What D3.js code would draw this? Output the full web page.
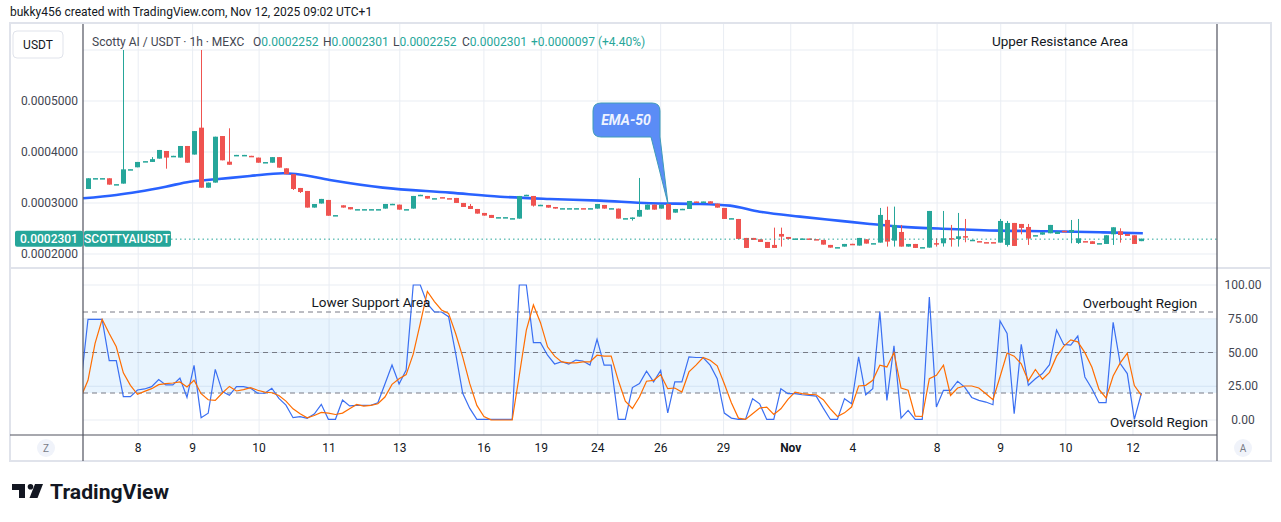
<!DOCTYPE html>
<html>
<head>
<meta charset="utf-8">
<script src="https://cdn.jsdelivr.net/npm/d3@7"></script>
<style>
  html, body { margin: 0; padding: 0; background: #fff; }
  svg { display: block; font-family: Roboto, "Noto Sans", sans-serif; }
</style>
</head>
<body>
<script>
(function() {

//------------------------------------------------------------------------------
//
// Data (prices in 1e-7 USDT, one entry per candle)
//
//------------------------------------------------------------------------------

var opens = [
  3275,3482,3482,3485,3364,3380,3657,3700,3815,3805, 3870,4020,3919,3890,4118,3950,4477,3300,3400,4313,
  3810,3937,3937,3925,3890,3797,3790,3900,3680,3565, 3295,3236,2910,2990,3060,2757,2955,2920,2874,2874,
  2874,2874,2890,2978,2968,2874,2890,3155,3138,3089, 3115,3095,3099,3001,2942,2883,2805,2766,2717,2717,
  2697,2694,3155,3138,2959,2962,2922,2893,2893,2893, 2899,2893,2890,2962,2893,2890,2697,2710,2733,2870,
  2968,2890,2981,2811,2880,2883,3030,3024,3033,2988, 2903,2697,2687,2315,2315,2289,2236,2178,2393,2334,
  2299,2299,2305,2292,2276,2178,2129,2145,2200,2165, 2289,2207,2223,2668,2262,2432,2145,2197,2129,2125,
  2213,2210,2311,2295,2350,2273,2253,2233,2233,2223, 2178,2609,2589,2530,2364,2380,2406,2393,2455,2426,
  2217,2253,2250,2207,2197,2386,2445,2393,2367,2252
];
var highs = [
  3485,3488,3488,3485,3370,6000,3663,3805,3821,3900, 4040,4020,3925,4118,4118,4410,6000,3400,4300,4313,
  4465,3943,3943,3925,3890,3803,3900,3900,3680,3565, 3295,3236,2980,3080,3060,2763,2955,2920,2880,2880,
  2880,2880,2981,2984,2968,2880,3138,3161,3138,3095, 3115,3095,3099,3001,2981,2883,2805,2766,2723,2723,
  2703,3138,3161,3138,2965,2962,2922,2899,2899,2899, 2899,2899,2981,2962,2899,2890,2703,2716,3491,2968,
  2968,2968,2981,2883,2886,3040,3030,3030,3033,2988, 2903,2703,2687,2315,2315,2289,2236,2517,2517,2334,
  2305,2305,2305,2292,2276,2178,2135,2197,2200,2315, 2289,2213,2903,2929,2929,2570,2197,2197,2135,2844,
  2308,2844,2570,2805,2687,2279,2253,2233,2233,2687, 2648,2609,2589,2589,2370,2426,2570,2439,2455,2667,
  2687,2253,2250,2213,2367,2524,2504,2393,2367,2301
];
var lows = [
  3275,3482,3482,3360,3364,3380,3657,3700,3815,3805, 3870,3673,3919,3890,3790,3950,3300,3300,3400,3837,
  3750,3937,3937,3919,3790,3797,3790,3693,3565,3255, 3196,2910,2910,2990,2750,2757,2910,2875,2874,2874,
  2874,2874,2890,2978,2870,2874,2890,3155,3086,3089, 3109,3089,3001,2922,2883,2792,2753,2707,2717,2717,
  2697,2694,3155,2929,2959,2909,2890,2893,2893,2893, 2893,2893,2890,2890,2893,2694,2697,2655,2733,2870,
  2870,2890,2674,2811,2880,2883,3024,3024,2988,2909, 2687,2697,2295,2119,2276,2236,2119,2119,2145,2295,
  2299,2299,2299,2286,2184,2125,2129,2145,2194,2165, 2204,2207,2223,2145,2145,2145,2145,2119,2129,2125,
  2145,2145,2145,2145,2230,2273,2247,2227,2227,2223, 2145,2158,2386,2178,2364,2380,2406,2393,2449,2210,
  2197,2247,2197,2207,2197,2178,2223,2354,2197,2252
];
var closes = [
  3485,3488,3488,3360,3370,3660,3663,3805,3821,3860, 4040,3890,3925,4118,3790,4410,3300,3400,4300,3837,
  3750,3943,3943,3919,3790,3803,3900,3693,3565,3275, 3215,2910,2980,3080,2750,2763,2910,2875,2880,2880,
  2880,2880,2981,2984,2870,2880,3138,3161,3086,3095, 3109,3089,3001,2922,2883,2792,2753,2707,2723,2723,
  2703,3138,3161,2948,2965,2909,2890,2899,2899,2899, 2893,2899,2981,2890,2899,2694,2703,2716,2864,2968,
  2870,2968,2674,2883,2886,3040,3024,3030,2988,2909, 2687,2703,2295,2119,2276,2236,2119,2119,2341,2295,
  2305,2305,2299,2286,2184,2125,2135,2197,2194,2315, 2204,2213,2766,2243,2570,2145,2197,2119,2135,2844,
  2207,2308,2305,2347,2344,2279,2247,2227,2227,2648, 2609,2158,2511,2302,2370,2426,2570,2439,2449,2471,
  2308,2247,2197,2213,2367,2524,2373,2354,2197,2301
];

// EMA-50 read at candle positions
var emaIndex = [-0.7, 4, 7.1, 11, 14.4, 18.1, 22.9, 27.6, 29.4, 34.2, 41.7, 51.2, 58.3, 65.3, 72.4,
  79.5, 86.6, 90.8, 95, 100.7, 106.4, 110.6, 114.8, 121.9, 129, 136.1, 143.1, 149.2];
var emaValues = [3093, 3158, 3222, 3320, 3418, 3465, 3530, 3583, 3570, 3452, 3301, 3203, 3124, 3079, 3046,
  2995, 2981, 2948, 2830, 2733, 2650, 2589, 2537, 2491, 2458, 2445, 2426, 2406];

// Stoch RSI, first entry belongs to candle -1
var stochK = [27,
  74.6,74.6,74.6,44,44,17.3,17.3,22.2,23,24.7, 30,26,26,31,16.8,40.5,1.7,5,37.5,21,
  18.3,24.7,24.7,23.5,19.8,19.8,23.5,16,11,1.7, 2.5,1.2,4.4,11.6,0.5,0.5,14.8,10.4,10.9,10.9,
  10.9,12.8,26.7,40.7,26.7,37,100,100,86,80, 80,76.5,49.4,19.8,8.6,0.5,0.5,0.5,0.5,0.5,
  0.5,100,100,57.3,57.3,48,41.5,43.2,41.5,44.4, 43.7,40.7,59.8,40.7,40.7,0.5,0.5,24,27,36.1,
  28.2,36.8,5.3,28.2,28.2,46.8,46.3,46.3,40.6,30.6, 5.1,1.4,0.4,0.4,15.8,12,0.4,0.4,23.2,19.5,
  19.5,18.7,18.2,17.7,8.8,0.4,0.4,15.8,12,46.8, 18.7,23.2,80.3,14.5,55,1.4,7.1,0.4,0.4,91,
  9.6,22,22,28.7,24.4,16.7,14.5,13.3,11.3,73.3, 64.1,4.6,56,25.7,30.6,34.4,41,66.6,56,55.5,
  62.2,31.9,23.2,12.8,12.8,72.3,41.8,34.4,0.4,20
];
var stochD = [17,
  29.4,56.7,74.6,64.1,54.2,34.9,25.7,19,21.2,23.2, 26.2,26.9,27.4,28.2,24.5,29.4,19.5,15,14.5,20,
  24.9,21.5,22.5,23.9,22,20.7,20.2,18.2,14,8.3, 4.6,1.6,3.3,5.6,5.1,4.1,5.1,8.3,11.5,10.3,
  10.8,12,17,26.4,30.6,33.6,48.8,71.6,95.2,87.7, 81.5,79,64.1,46.8,26.9,10.8,2.6,0.1,0,0,
  0,33.1,66.6,85.2,72.1,54.2,47.3,43,42.3,42.3, 43,43,48,47.3,47.3,29.4,14,8.5,17,28.7,
  29.4,33.6,23.2,23.7,20.7,35.6,40.6,46.3,44.3,40.1, 26.9,12.8,1.4,0.4,4.6,8.8,9.6,4.1,8.3,15.3,
  20.7,19.5,19,18.7,15,8.3,2.6,5.3,9.6,25.2, 25.7,29.4,40.6,39.3,50,23.7,22,2.9,2.6,30.6,
  33.1,40.6,18.2,23.7,25.2,25.2,23.7,19.5,15,32, 49.6,47.3,41.6,29,37.4,30.2,35.3,47.3,54.5,59.4,
  57.9,49.9,39.1,22.6,16.3,32.6,42.3,49.5,25.5,18.3
];

var timeTickIndex = [7.1, 14.8, 24.2, 34.1, 44.1, 56, 64.1, 72.1, 81, 89.9, 99.4, 108.2, 120.1, 129.1, 138.3, 147.8];
var timeTickLabels = ["8", "9", "10", "11", "13", "16", "19", "24", "26", "29", "Nov", "4", "8", "9", "10", "12"];

var priceTicks = [2000, 3000, 4000, 5000, 6000];
var oscTicks = [0, 25, 50, 75, 100];
var oscLevels = [20, 50, 80];
var lastPrice = 2301;

//------------------------------------------------------------------------------
//
// Layout
//
//------------------------------------------------------------------------------

var W = 1281, H = 522;
var left = 83, right = 1217;
var frame = {x0: 10, y0: 23, x1: 1271, y1: 461};
var pricePane = {top: 24, bottom: 268};
var oscPane = {top: 268, bottom: 435};

var up = "#26a69a", down = "#ef5350", grid = "#e9edf3", text = "#131722";

var svg = d3.select("body").append("svg")
  .attr("width", W)
  .attr("height", H);

svg.append("rect").attr("width", W).attr("height", H).attr("fill", "#fff");

var x = d3.scaleLinear().domain([0, 149]).range([88, 88 + 149 * 7.07]);
var y = d3.scaleLinear().domain([2000, 5000]).range([254, 101]);
var yo = d3.scaleLinear().domain([0, 100]).range([420, 285]);

svg.append("defs").call(function(defs) {
  defs.append("clipPath").attr("id", "clip-price")
    .append("rect").attr("x", left).attr("y", pricePane.top)
    .attr("width", right - left).attr("height", pricePane.bottom - pricePane.top);
  defs.append("clipPath").attr("id", "clip-osc")
    .append("rect").attr("x", left).attr("y", oscPane.top)
    .attr("width", right - left).attr("height", oscPane.bottom - oscPane.top);
});

//--------------------------------------
// Frame
//--------------------------------------

svg.append("rect")
  .attr("x", frame.x0).attr("y", frame.y0)
  .attr("width", frame.x1 - frame.x0).attr("height", frame.y1 - frame.y0)
  .attr("fill", "none").attr("stroke", "#e0e3eb").attr("stroke-width", 2);

//--------------------------------------
// Grid
//--------------------------------------

var gridG = svg.append("g");
gridG.selectAll(".vgrid").data(timeTickIndex).enter().append("line")
  .attr("x1", function(d) { return x(d); }).attr("x2", function(d) { return x(d); })
  .attr("y1", pricePane.top).attr("y2", oscPane.bottom)
  .attr("stroke", grid);
gridG.selectAll(".pgrid").data(priceTicks).enter().append("line")
  .attr("x1", left).attr("x2", right)
  .attr("y1", function(d) { return y(d); }).attr("y2", function(d) { return y(d); })
  .attr("stroke", grid);

// oscillator band
svg.append("rect")
  .attr("x", left).attr("width", right - left)
  .attr("y", yo(75)).attr("height", yo(20) - yo(75))
  .attr("fill", "rgba(33,150,243,0.1)");

gridG.selectAll(".ogrid").data(oscTicks).enter().append("line")
  .attr("x1", left).attr("x2", right)
  .attr("y1", function(d) { return yo(d); }).attr("y2", function(d) { return yo(d); })
  .attr("stroke", grid);

svg.selectAll(".level").data(oscLevels).enter().append("line")
  .attr("x1", left).attr("x2", right)
  .attr("y1", function(d) { return yo(d); }).attr("y2", function(d) { return yo(d); })
  .attr("stroke", "#787b86").attr("stroke-dasharray", "5,4");

// pane separators
svg.append("line").attr("x1", frame.x0).attr("x2", frame.x1)
  .attr("y1", pricePane.bottom).attr("y2", pricePane.bottom)
  .attr("stroke", "#e0e3eb").attr("stroke-width", 2);

//--------------------------------------
// Price pane
//--------------------------------------

var priceG = svg.append("g").attr("clip-path", "url(#clip-price)");

var ema = d3.line()
  .x(function(d, i) { return x(emaIndex[i]); })
  .y(function(d) { return y(d); })
  .curve(d3.curveMonotoneX);

priceG.append("path")
  .datum(emaValues)
  .attr("d", ema)
  .attr("fill", "none")
  .attr("stroke", "#2962ff")
  .attr("stroke-width", 2.6);

var candles = priceG.selectAll(".candle").data(closes).enter().append("g")
  .attr("fill", function(d, i) { return d >= opens[i] ? up : down; })
  .attr("stroke", function(d, i) { return d >= opens[i] ? up : down; });

candles.append("line")
  .attr("x1", function(d, i) { return Math.round(x(i)) + 0.5; })
  .attr("x2", function(d, i) { return Math.round(x(i)) + 0.5; })
  .attr("y1", function(d, i) { return y(highs[i]); })
  .attr("y2", function(d, i) { return y(lows[i]); });

candles.append("rect")
  .attr("stroke", "none")
  .attr("x", function(d, i) { return Math.round(x(i)) - 2; })
  .attr("width", 5)
  .attr("y", function(d, i) { return y(Math.max(d, opens[i])); })
  .attr("height", function(d, i) { return Math.max(1.5, Math.abs(y(d) - y(opens[i]))); });

// last price line
svg.append("line")
  .attr("x1", 171).attr("x2", right)
  .attr("y1", y(lastPrice) + 0.5).attr("y2", y(lastPrice) + 0.5)
  .attr("stroke", up).attr("stroke-dasharray", "1.5,3");

//--------------------------------------
// Oscillator pane
//--------------------------------------

var oscG = svg.append("g").attr("clip-path", "url(#clip-osc)");
var oscLine = d3.line()
  .x(function(d, i) { return x(i - 1); })
  .y(function(d) { return yo(d); });

oscG.append("path").datum(stochK).attr("d", oscLine)
  .attr("fill", "none").attr("stroke", "#3a6ff2").attr("stroke-width", 1.2);
oscG.append("path").datum(stochD).attr("d", oscLine)
  .attr("fill", "none").attr("stroke", "#ff6d00").attr("stroke-width", 1.2);

//--------------------------------------
// Axis lines and labels
//--------------------------------------

svg.append("line").attr("x1", frame.x0).attr("x2", right)
  .attr("y1", oscPane.bottom).attr("y2", oscPane.bottom)
  .attr("stroke", "#50535e").attr("stroke-width", 1.2);
[left, right].forEach(function(xx) {
  svg.append("line").attr("x1", xx).attr("x2", xx)
    .attr("y1", pricePane.top).attr("y2", frame.y1)
    .attr("stroke", "#50535e").attr("stroke-width", 1.2);
});

svg.selectAll(".plabel").data(priceTicks.filter(function(d) { return d < 6000; })).enter().append("text")
  .attr("x", 78).attr("y", function(d) { return y(d); })
  .attr("dy", "0.35em").attr("text-anchor", "end")
  .attr("font-size", 12).attr("fill", "#434651")
  .text(function(d) { return (d * 1e-7).toFixed(7); });

svg.selectAll(".olabel").data(oscTicks).enter().append("text")
  .attr("x", 1243).attr("y", function(d) { return yo(d); })
  .attr("dy", "0.35em").attr("text-anchor", "middle")
  .attr("font-size", 12).attr("fill", "#434651")
  .text(function(d) { return d.toFixed(2); });

svg.selectAll(".tlabel").data(timeTickIndex).enter().append("text")
  .attr("x", function(d) { return x(d); }).attr("y", 448)
  .attr("dy", "0.35em").attr("text-anchor", "middle")
  .attr("font-size", 12).attr("fill", text)
  .attr("font-weight", function(d, i) { return timeTickLabels[i] == "Nov" ? 700 : 400; })
  .text(function(d, i) { return timeTickLabels[i]; });

[["Z", 46], ["A", 1243]].forEach(function(b) {
  svg.append("circle").attr("cx", b[1]).attr("cy", 448).attr("r", 9).attr("fill", "#f0f3fa");
  svg.append("text").attr("x", b[1]).attr("y", 448).attr("dy", "0.35em")
    .attr("text-anchor", "middle").attr("font-size", 10).attr("fill", "#787b86").text(b[0]);
});

// last price badges
var lp = y(lastPrice);
svg.append("rect").attr("x", 15).attr("y", lp - 8).attr("width", 68).attr("height", 16)
  .attr("rx", 2).attr("fill", up);
svg.append("rect").attr("x", 84).attr("y", lp - 8).attr("width", 87).attr("height", 16)
  .attr("rx", 2).attr("fill", up);
svg.append("text").attr("x", 49).attr("y", lp).attr("dy", "0.35em").attr("text-anchor", "middle")
  .attr("font-size", 12).attr("font-weight", 500).attr("fill", "#fff").text("0.0002301");
svg.append("text").attr("x", 127).attr("y", lp).attr("dy", "0.35em").attr("text-anchor", "middle")
  .attr("font-size", 12).attr("font-weight", 500).attr("fill", "#fff").text("SCOTTYAIUSDT");

//--------------------------------------
// Header
//--------------------------------------

svg.append("text").attr("x", 10).attr("y", 16)
  .attr("font-size", 12).attr("fill", text)
  .text("bukky456 created with TradingView.com, Nov 12, 2025 09:02 UTC+1");

svg.append("rect").attr("x", 13).attr("y", 31).attr("width", 50).attr("height", 27)
  .attr("rx", 4).attr("fill", "#fff").attr("stroke", "#e0e3eb");
svg.append("text").attr("x", 38).attr("y", 44.5).attr("dy", "0.35em").attr("text-anchor", "middle")
  .attr("font-size", 12).attr("fill", text).text("USDT");

svg.append("text").attr("x", 92).attr("y", 42).attr("dy", "0.35em")
  .attr("font-size", 12).attr("fill", "#434651").text("Scotty AI / USDT · 1h · MEXC");

var ohlc = [["O", "0.0002252", 253], ["H", "0.0002301", 323], ["L", "0.0002252", 393], ["C", "0.0002301", 462]];
ohlc.forEach(function(d) {
  var t = svg.append("text").attr("x", d[2]).attr("y", 42).attr("dy", "0.35em").attr("font-size", 12);
  t.append("tspan").attr("fill", "#434651").text(d[0]);
  t.append("tspan").attr("fill", up).text(d[1]);
});
svg.append("text").attr("x", 531).attr("y", 42).attr("dy", "0.35em")
  .attr("font-size", 12).attr("fill", up).text("+0.0000097 (+4.40%)");

//--------------------------------------
// Annotations
//--------------------------------------

var notes = [
  {t: "Upper Resistance Area", x: 1060, y: 41},
  {t: "Lower Support Area", x: 371, y: 302},
  {t: "Overbought Region", x: 1140, y: 303},
  {t: "Oversold Region", x: 1159, y: 422}
];
svg.selectAll(".note").data(notes).enter().append("text")
  .attr("x", function(d) { return d.x; }).attr("y", function(d) { return d.y; })
  .attr("dy", "0.35em").attr("text-anchor", "middle")
  .attr("font-size", 13.5).attr("fill", text)
  .text(function(d) { return d.t; });

svg.append("path")
  .attr("d", "M601,103 H652 Q660,103 660,111 V137 L668,204 L651,137 H601 Q593,137 593,129 V111 Q593,103 601,103 Z")
  .attr("fill", "#5b8cf6").attr("stroke", "#3f9db8").attr("stroke-width", 1);
svg.append("text").attr("x", 626).attr("y", 120).attr("dy", "0.35em").attr("text-anchor", "middle")
  .attr("font-size", 14).attr("font-weight", 700).attr("font-style", "italic")
  .attr("fill", "#eef3ff").text("EMA-50");

//--------------------------------------
// Logo
//--------------------------------------

var logo = svg.append("g").attr("fill", text);
logo.append("path").attr("d", "M12,484 H25 V498 H19 V490 H12 Z");
logo.append("circle").attr("cx", 30.5).attr("cy", 486.8).attr("r", 2.8);
logo.append("path").attr("d", "M35,484 H43 L37.5,498 H29.5 Z");
logo.append("text").attr("x", 50).attr("y", 499)
  .attr("font-size", 21).attr("font-weight", 700).attr("fill", text)
  .attr("textLength", 119).attr("lengthAdjust", "spacingAndGlyphs")
  .text("TradingView");

})();
</script>
</body>
</html>
